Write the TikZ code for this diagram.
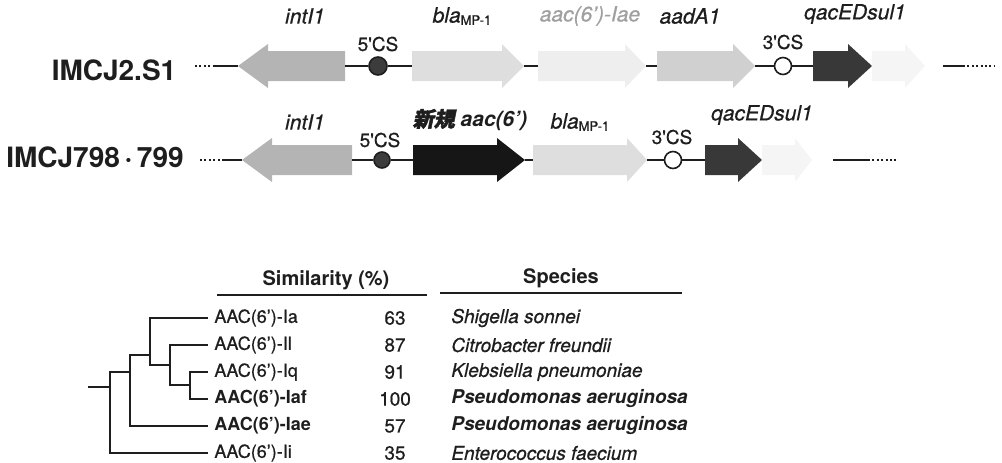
\documentclass[tikz,border=0pt]{standalone}
\usepackage{fontspec}
\setmainfont{TeX Gyre Heros}[UprightFeatures={FakeBold=0.7}, ItalicFeatures={FakeBold=0.7}]
\newfontfamily\jpfont[FakeSlant=0.2,FakeBold=2]{Noto Sans CJK JP}
\usepackage{tikz}
\usetikzlibrary{positioning}

\definecolor{inkgray}{HTML}{1E1E1E}
\definecolor{intgray}{HTML}{B4B4B4}
\definecolor{palegray}{HTML}{DEDEDE}
\definecolor{midgray}{HTML}{D0D0D0}
\definecolor{ghostgray}{HTML}{EEEEEE}
\definecolor{faintgray}{HTML}{F5F5F5}
\definecolor{darkgray}{HTML}{383838}
\definecolor{newblack}{HTML}{161616}
\definecolor{dotgray}{HTML}{3C3C3C}
\definecolor{labgray}{HTML}{A0A0A0}

\begin{document}
\begin{tikzpicture}[
  x=0.5pt, y=-0.5pt,
  every node/.style={text=inkgray, inner sep=1pt},
  strain/.style={font=\fontsize{14}{14}\selectfont\bfseries},
  genelab/.style={font=\fontsize{10.5}{12}\selectfont\itshape},
  cslab/.style={font=\fontsize{9.5}{10}\selectfont},
  csdot/.style={circle, draw=inkgray, line width=0.8pt, fill=dotgray, minimum size=9pt, inner sep=0pt},
  csring/.style={circle, draw=inkgray, line width=0.8pt, fill=white, minimum size=8.5pt, inner sep=0pt},
  link/.style={draw=inkgray, line width=0.9pt},
  dots/.style={draw=inkgray, line width=0.9pt, dash pattern=on 1pt off 1.2pt},
  head/.style={font=\fontsize{10}{11}\selectfont\bfseries},
  enz/.style={anchor=west, inner sep=3pt, font=\fontsize{9}{10}\selectfont},
  pct/.style={font=\fontsize{9.5}{10}\selectfont},
  spec/.style={anchor=west, font=\fontsize{9.5}{10}\selectfont\itshape},
  tree/.style={draw=inkgray, line width=0.8pt}
]
  \useasboundingbox (0,0) rectangle (1002,462);

  % gene arrows: name/tail/head base/tip/y/colour
  \foreach \nm/\ta/\hb/\tp/\yy/\cl in {
      int1a/345/268/238/66/intgray, bla1/412/502/524/66/palegray,
      iae1/538/625/646/66/ghostgray, aada1/657/733/755/66/midgray,
      qac1/813/848/872/66/darkgray, sul1a/872/905/925/66/faintgray,
      int1b/352/272/242/160/intgray, new2/413/497/525/160/newblack,
      bla2/533/627/647/160/palegray, qac2/705/738/762/160/darkgray,
      sul2/762/795/812/160/faintgray} {
    \fill[\cl] (\ta,\yy-15) -- (\hb,\yy-15) -- (\hb,\yy-22) -- (\tp,\yy)
      -- (\hb,\yy+22) -- (\hb,\yy+15) -- (\ta,\yy+15) -- cycle;
    \coordinate (\nm-t) at (\ta,\yy);
    \coordinate (\nm-h) at (\tp,\yy);
  }

  % IMCJ2.S1
  \node[strain] (s1) at (114,70) {IMCJ2.S1};
  \coordinate (s1a) at (195,66);
  \coordinate (s1b) at (215,66);
  \coordinate (s1c) at (943,66);
  \coordinate (s1d) at (963,66);
  \coordinate (s1e) at (995,66);
  \node[csdot] (cs5a) at (378,66) {};
  \node[csring] (cs3a) at (783,66) {};
  \draw[dots] (s1a) -- (s1b);
  \draw[link] (s1b) -- (int1a-h);
  \draw[link] (int1a-t) -- (cs5a) -- (bla1-t);
  \draw[link] (bla1-h) -- (iae1-t);
  \draw[link] (iae1-h) -- (aada1-t);
  \draw[link] (aada1-h) -- (cs3a) -- (qac1-t);
  \draw[link] (s1c) -- (s1d);
  \draw[dots] (s1d) -- (s1e);

  \node[genelab] (g-int1a) at (305,16) {intI1};
  \node[genelab] (g-bla1) at (462,16) {bla\raisebox{-0.2ex}{\upshape\fontsize{6.5}{7}\selectfont MP-1}};
  \node[genelab, text=labgray] (g-iae1) at (590,16) {aac(6')-Iae};
  \node[genelab] (g-aada1) at (690,16) {aadA1};
  \node[genelab] (g-qac1) at (855,14) {qacEDsul1};
  \node[cslab] (l-cs5a) at (378,44) {5\textquotesingle CS};
  \node[cslab] (l-cs3a) at (783,42) {3\textquotesingle CS};

  % IMCJ798-799
  \node[strain] (s2) at (95,157) {IMCJ798\,·\,799};
  \coordinate (s2a) at (200,160);
  \coordinate (s2b) at (222,160);
  \coordinate (s2c) at (833,160);
  \coordinate (s2d) at (868,160);
  \coordinate (s2e) at (897,160);
  \node[csdot, minimum size=8pt] (cs5b) at (382,160) {};
  \node[csring] (cs3b) at (673,160) {};
  \draw[dots] (s2a) -- (s2b);
  \draw[link] (s2b) -- (int1b-h);
  \draw[link] (int1b-t) -- (cs5b) -- (new2-t);
  \draw[link] (new2-h) -- (bla2-t);
  \draw[link] (bla2-h) -- (cs3b) -- (qac2-t);
  \draw[link] (s2c) -- (s2d);
  \draw[dots] (s2d) -- (s2e);

  \node[genelab] (g-int1b) at (305,122) {intI1};
  \node[genelab, font=\fontsize{10.5}{12}\selectfont\bfseries\itshape] (g-new2) at (470,120) {{\jpfont 新規} aac(6')};
  \node[genelab] (g-bla2) at (580,122) {bla\raisebox{-0.2ex}{\upshape\fontsize{6.5}{7}\selectfont MP-1}};
  \node[genelab] (g-qac2) at (762,115) {qacEDsul1};
  \node[cslab] (l-cs5b) at (380,140) {5\textquotesingle CS};
  \node[cslab] (l-cs3b) at (672,137) {3\textquotesingle CS};

  % similarity table
  \node[head] (h-sim) at (326,280) {Similarity (\%)};
  \node[head] (h-spec) at (561,278) {Species};
  \coordinate (r-sim-l) at (217,295);
  \coordinate (r-sim-r) at (427,295);
  \coordinate (r-spec-l) at (440,293);
  \coordinate (r-spec-r) at (682,293);
  \draw[line width=0.6pt, draw=inkgray] (r-sim-l) -- (r-sim-r);
  \draw[line width=0.6pt, draw=inkgray] (r-spec-l) -- (r-spec-r);

  \node[enz] (ia)  at (208,318) {AAC(6')-Ia};
  \node[enz] (il)  at (208,345) {AAC(6')-Il};
  \node[enz] (iq)  at (208,372) {AAC(6')-Iq};
  \node[enz, font=\fontsize{9}{10}\selectfont\bfseries] (iaf) at (208,399) {AAC(6')-Iaf};
  \node[enz, font=\fontsize{9}{10}\selectfont\bfseries] (iae) at (208,426) {AAC(6')-Iae};
  \node[enz] (ii)  at (208,453) {AAC(6')-Ii};

  \node[pct] (p-ia)  at (395,318) {63};
  \node[pct] (p-il)  at (395,345) {87};
  \node[pct] (p-iq)  at (395,372) {91};
  \node[pct] (p-iaf) at (395,399) {100};
  \node[pct] (p-iae) at (395,426) {57};
  \node[pct] (p-ii)  at (395,453) {35};

  \node[spec] (sp-ia)  at (449,318) {Shigella sonnei};
  \node[spec] (sp-il)  at (449,345) {Citrobacter freundii};
  \node[spec] (sp-iq)  at (449,372) {Klebsiella pneumoniae};
  \node[spec, font=\fontsize{9.5}{10}\selectfont\bfseries\itshape] (sp-iaf) at (449,399) {Pseudomonas aeruginosa};
  \node[spec, font=\fontsize{9.5}{10}\selectfont\bfseries\itshape] (sp-iae) at (449,426) {Pseudomonas aeruginosa};
  \node[spec] (sp-ii)  at (449,453) {Enterococcus faecium};

  % tree
  \coordinate (stub) at (88,387);
  \coordinate (root) at (110,387);
  \coordinate (nA) at (130,372);
  \coordinate (nB) at (150,355);
  \coordinate (nC) at (170,365);
  \coordinate (nD) at (190,385);
  \draw[tree] (stub) -- (root);
  \draw[tree] (root) |- (nA);
  \draw[tree] (root) |- (ii.west);
  \draw[tree] (nA) |- (nB);
  \draw[tree] (nA) |- (iae.west);
  \draw[tree] (nB) |- (ia.west);
  \draw[tree] (nB) |- (nC);
  \draw[tree] (nC) |- (il.west);
  \draw[tree] (nC) |- (nD);
  \draw[tree] (nD) |- (iq.west);
  \draw[tree] (nD) |- (iaf.west);
\end{tikzpicture}
\end{document}
